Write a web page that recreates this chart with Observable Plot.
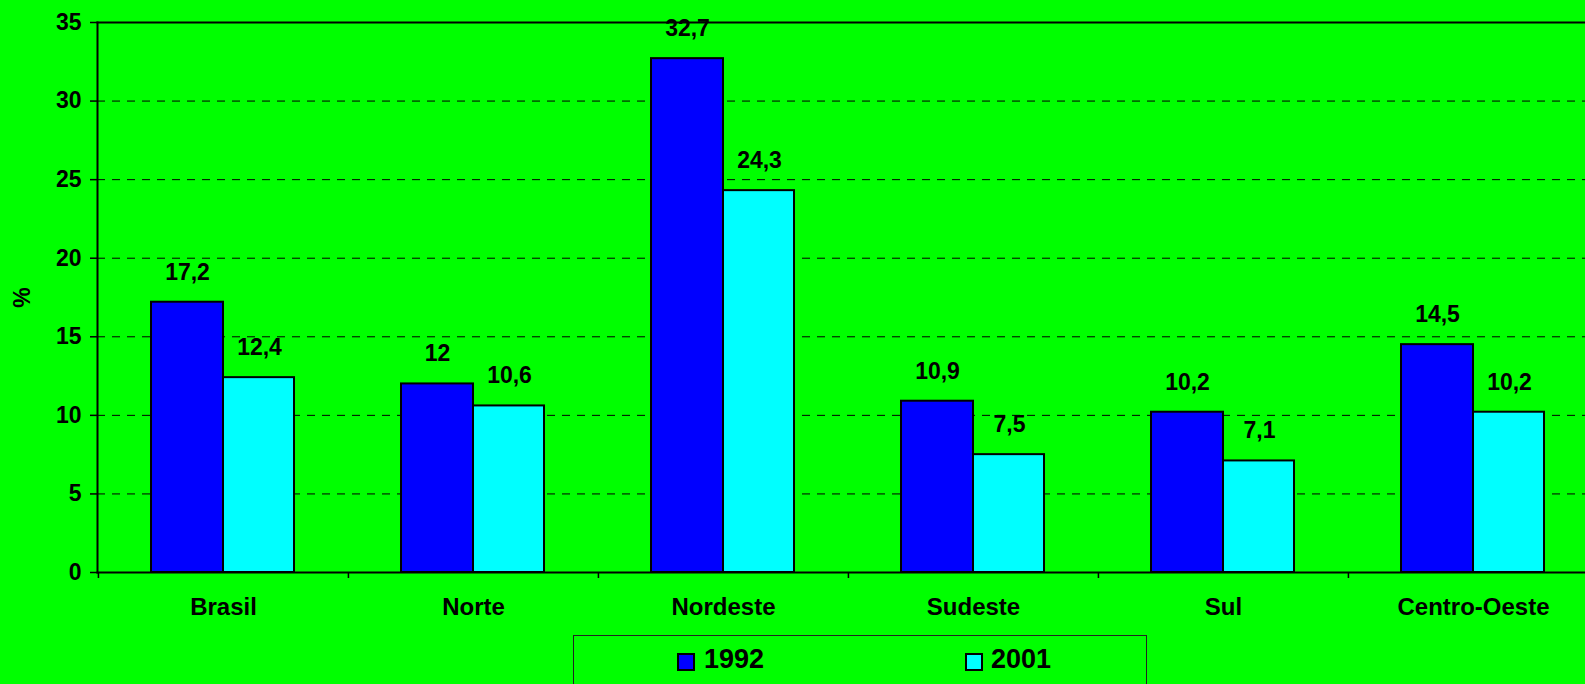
<!DOCTYPE html>
<html>
<head>
<meta charset="utf-8">
<script src="https://cdn.jsdelivr.net/npm/d3@7"></script>
<script src="https://cdn.jsdelivr.net/npm/@observablehq/plot@0.6"></script>
<style>
  html, body { margin: 0; padding: 0; background: #00ff00; overflow: hidden; }
  body { width: 1585px; height: 684px; font-family: "Liberation Sans", Arial, sans-serif; }
  #wrap { width: 1598px; position: relative; }
  #legend { position: absolute; left: 573px; top: 635px; width: 574px; height: 80px;
            border: 1px solid #222; box-sizing: border-box; }
  .sw { position: absolute; width: 14px; height: 14px; border: 2px solid #000; top: 17px; }
  .lt { position: absolute; top: 7px; font-size: 27px; font-weight: bold; color: #000; line-height: 32px; }
</style>
</head>
<body>
<div id="wrap"></div>
<script>
const categories = ["Brasil", "Norte", "Nordeste", "Sudeste", "Sul", "Centro-Oeste"];
const series = ["1992", "2001"];
const v1992 = [17.2, 12, 32.7, 10.9, 10.2, 14.5];
const v2001 = [12.4, 10.6, 24.3, 7.5, 7.1, 10.2];
const yTicks = [0, 5, 10, 15, 20, 25, 30, 35];
const gridTicks = [5, 10, 15, 20, 25, 30];
const colors = ["#0000ff", "#00ffff"];

const d1992 = categories.map((c, i) => ({cat: c, value: v1992[i]}));
const d2001 = categories.map((c, i) => ({cat: c, value: v2001[i]}));
const fmt = v => String(v).replace(".", ",");

const plot = Plot.plot({
  width: 1598,
  height: 635,
  marginTop: 22,
  marginBottom: 63,
  marginLeft: 97,
  marginRight: 0,
  style: {background: "#00ff00", fontFamily: "Liberation Sans, Arial, sans-serif", fontWeight: "bold", color: "#000"},
  x: {domain: categories, padding: 0, label: null},
  y: {domain: [0, 35], label: null},
  marks: [
    Plot.gridY(gridTicks, {stroke: "#000", strokeOpacity: 1, strokeWidth: 1, strokeDasharray: "8,7"}),
    Plot.barY(d1992, {x: "cat", y: "value", fill: colors[0], stroke: "#000", strokeWidth: 2, insetLeft: 53, insetRight: 125}),
    Plot.barY(d2001, {x: "cat", y: "value", fill: colors[1], stroke: "#000", strokeWidth: 2, insetLeft: 125, insetRight: 54}),
    Plot.text(d1992, {x: "cat", y: "value", text: d => fmt(d.value), dx: -36, dy: -30, fontSize: 23, fontWeight: "bold", fill: "#000"}),
    Plot.text(d2001, {x: "cat", y: "value", text: d => fmt(d.value), dx: 36, dy: -30, fontSize: 23, fontWeight: "bold", fill: "#000"}),
    Plot.frame({anchor: "top", stroke: "#000", strokeWidth: 2}),
    Plot.frame({anchor: "left", stroke: "#000", strokeWidth: 2}),
    Plot.frame({anchor: "bottom", stroke: "#000", strokeWidth: 2}),
    Plot.axisY(yTicks, {tickSize: 7, tickPadding: 9, fontSize: 23, fontWeight: "bold", strokeWidth: 1.5, label: null}),
    Plot.text(["%"], {frameAnchor: "left", textAnchor: "middle", dx: -75, rotate: -90, fontSize: 23, fontWeight: "bold", fill: "#000"}),
    Plot.axisX({tickSize: 6, tickFormat: () => "", dx: -125.08, strokeWidth: 1.5}),
    Plot.axisX({tickSize: 0, tickPadding: 25, fontSize: 24, fontWeight: "bold", label: null, style: {letterSpacing: "1.5px"}})
  ]
});
plot.style.maxWidth = "none";
plot.style.display = "block";
const wrap = document.getElementById("wrap");
wrap.appendChild(plot);

const legend = document.createElement("div");
legend.id = "legend";
const items = [{x: 103, tx: 130}, {x: 391, tx: 417}];
series.forEach((s, i) => {
  const sw = document.createElement("div");
  sw.className = "sw";
  sw.style.left = items[i].x + "px";
  sw.style.background = colors[i];
  const t = document.createElement("div");
  t.className = "lt";
  t.style.left = items[i].tx + "px";
  t.textContent = s;
  legend.appendChild(sw);
  legend.appendChild(t);
});
wrap.appendChild(legend);
</script>
</body>
</html>
